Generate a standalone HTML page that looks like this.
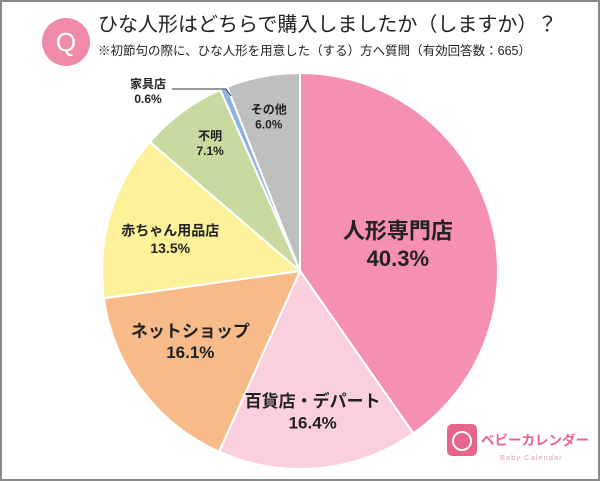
<!DOCTYPE html>
<html><head><meta charset="utf-8"><style>
body{margin:0;background:#fff}
svg{display:block;font-family:"Liberation Sans","Noto Sans CJK JP",sans-serif}
</style></head><body>
<svg width="600" height="481" viewBox="0 0 600 481">
<rect x="1" y="1" width="598" height="479" fill="#fff" stroke="#8a8a8a" stroke-width="2"/>
<circle cx="66" cy="42" r="24" fill="#ef8aa8"/>
<text x="66" y="51" font-size="26" fill="#fff" text-anchor="middle">Q</text>
<text x="98" y="31" font-size="20" fill="#222">ひな人形はどちらで購入しましたか（しますか）？</text>
<text x="98" y="55" font-size="12.5" fill="#222">※初節句の際に、ひな人形を用意した（する）方へ質問（有効回答数：665）</text>
<g id="slices"></g>
<g id="labels"></g>
<line x1="172" y1="89" x2="226" y2="89" stroke="#333" stroke-width="1"/>
<line x1="226" y1="89" x2="231" y2="96" stroke="#333" stroke-width="1"/>
<g>
<rect x="447" y="424" width="30" height="32" rx="5" fill="#e8648a"/>
<circle cx="462" cy="441" r="9" fill="none" stroke="#fff" stroke-width="2"/>
<text x="481" y="445" font-size="13.5" font-weight="bold" fill="#e8648a">ベビーカレンダー</text>
<text x="500" y="460" font-size="7.5" fill="#e8a0b4" letter-spacing="1">Baby Calendar</text>
</g>
</svg>
<script>
const categories=["人形専門店","百貨店・デパート","ネットショップ","赤ちゃん用品店","不明","家具店","その他"];
const values=[40.3,16.4,16.1,13.5,7.1,0.6,6.0];
const colors=["#f590b0","#fbd0de","#f7bb8a","#fdf29a","#c8da9f","#8fb4e3","#bfbfbf"];
const cx=300,cy=271,r=198,NS="http://www.w3.org/2000/svg";
const total=values.reduce((a,b)=>a+b,0);
const pt=(a,rr)=>[cx+rr*Math.sin(a),cy-rr*Math.cos(a)];
let a0=0;const sg=document.getElementById('slices'),lg=document.getElementById('labels');
const labelR=[0.55,0.68,0.68,0.62,0.66,0,0.68];
const offX=[-6,0,-2,-12,-12,0,-6];
const offY=[0,2,-15,-1,-26,0,-25];
const big=[22,17,17,14,12,12,12];
values.forEach((v,i)=>{
 const a1=a0+v/total*2*Math.PI;
 const p0=pt(a0,r),p1=pt(a1,r);
 const p=document.createElementNS(NS,'path');
 p.setAttribute('d',`M${cx},${cy}L${p0[0]},${p0[1]}A${r},${r} 0 ${a1-a0>Math.PI?1:0} 1 ${p1[0]},${p1[1]}Z`);
 p.setAttribute('fill',colors[i]);p.setAttribute('stroke','#fff');p.setAttribute('stroke-width','2');
 
 
 sg.appendChild(p);
 let lx,ly;const m=(a0+a1)/2;
 if(labelR[i]>0){[lx,ly]=pt(m,r*labelR[i]);lx+=offX[i];ly+=offY[i];}else{lx=148;ly=88;}
 const fs=big[i];
 const t=document.createElementNS(NS,'text');
 t.setAttribute('x',lx);t.setAttribute('y',ly);t.setAttribute('text-anchor','middle');
 t.setAttribute('font-size',fs);t.setAttribute('font-weight','bold');t.setAttribute('fill','#222');
 
 
 const s1=document.createElementNS(NS,'tspan');s1.setAttribute('x',lx);s1.textContent=categories[i];
 const s2=document.createElementNS(NS,'tspan');s2.setAttribute('x',lx);s2.setAttribute('dy',fs*1.25);s2.textContent=v.toFixed(1)+'%';
 t.appendChild(s1);t.appendChild(s2);lg.appendChild(t);
 a0=a1;
});
</script>
</body></html>
